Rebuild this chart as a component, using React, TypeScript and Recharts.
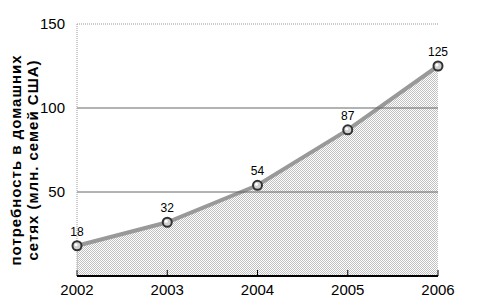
import { AreaChart, Area, XAxis, YAxis, ReferenceLine, LabelList } from 'recharts'

const years = ['2002', '2003', '2004', '2005', '2006']
const demand = [18, 32, 54, 87, 125]
const yTicks = [50, 100, 150]
const yLabelLines = ['потребность в домашних', 'сетях (млн. семей США)']

const data = years.map((year, i) => ({ year, demand: demand[i] }))

const font = 'Arial, "Liberation Sans", sans-serif'

function Dot({ cx, cy }: { cx?: number; cy?: number }) {
  if (cx == null || cy == null) return null
  return (
    <g>
      <circle cx={cx} cy={cy} r={4.5} fill="#d0d0d0" stroke="#333" strokeWidth={2} />
      <circle cx={cx - 1} cy={cy - 1} r={1.5} fill="#fff" />
    </g>
  )
}

export default function App() {
  return (
    <div style={{ width: 480, height: 306, background: '#fff', position: 'relative' }}>
      <style>{`body{margin:0}`}</style>
      <AreaChart width={480} height={306} data={data} margin={{ top: 24, right: 42, left: 0, bottom: 0 }}>
        <defs>
          <pattern id="dots" width={2} height={2} patternUnits="userSpaceOnUse">
            <rect width={2} height={2} fill="#fff" />
            <rect x={0} y={0} width={1} height={1} fill="#c0c0c0" />
            <rect x={1} y={1} width={1} height={1} fill="#c0c0c0" />
          </pattern>
        </defs>
        <XAxis
          dataKey="year"
          height={30}
          axisLine={{ stroke: '#000', strokeWidth: 2 }}
          tickLine={{ stroke: '#000' }}
          tickSize={-6}
          tick={{ fill: '#000', fontSize: 15, fontFamily: font }}
          dy={12}
        />
        <YAxis
          domain={[0, 150]}
          ticks={yTicks}
          width={77}
          axisLine={{ stroke: '#999', strokeDasharray: '1 1' }}
          tickLine={false}
          tick={{ fill: '#000', fontSize: 15, fontFamily: font }}
          tickMargin={6}
        />
        <ReferenceLine y={150} stroke="#999" strokeDasharray="1 1" />
        <ReferenceLine y={100} stroke="#666" />
        <ReferenceLine y={50} stroke="#666" />
        <Area
          type="linear"
          dataKey="demand"
          stroke="#999"
          strokeWidth={4}
          fill="url(#dots)"
          fillOpacity={1}
          dot={<Dot />}
          activeDot={false}
          isAnimationActive={false}
        >
          <LabelList dataKey="demand" position="top" offset={10} fill="#000" fontSize={12} fontFamily={font} />
        </Area>
      </AreaChart>
      <svg width={60} height={306} style={{ position: 'absolute', left: 0, top: 0 }}>
        <text
          transform="translate(21,160) rotate(-90)"
          textAnchor="middle"
          fontFamily={font}
          fontSize={15}
          fontWeight="bold"
          letterSpacing={1}
          fill="#000"
        >
          <tspan x={0} dy={0}>{yLabelLines[0]}</tspan>
          <tspan x={0} dy={17}>{yLabelLines[1]}</tspan>
        </text>
      </svg>
    </div>
  )
}
